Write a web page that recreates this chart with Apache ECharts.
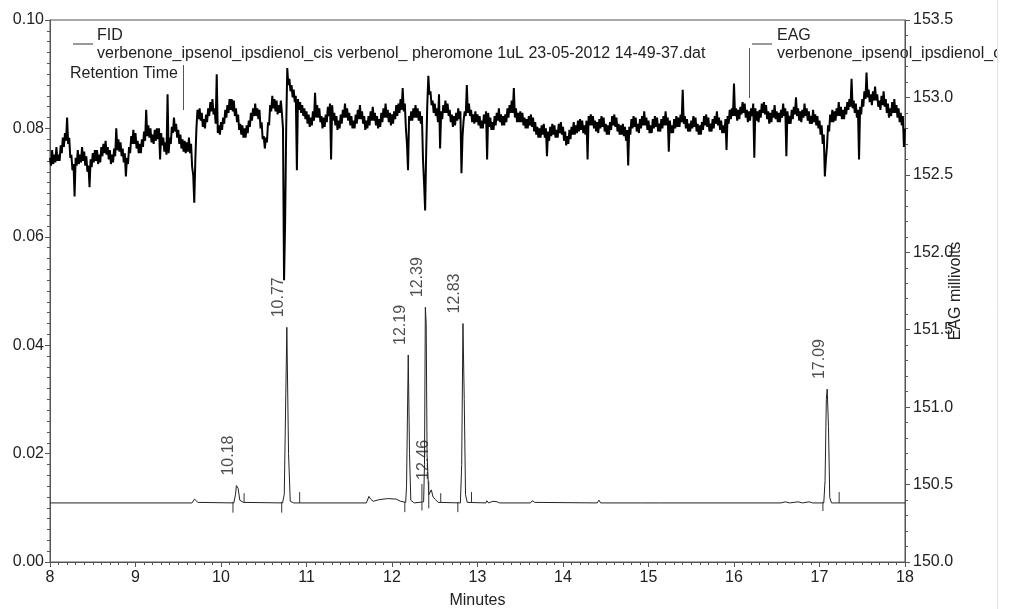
<!DOCTYPE html>
<html>
<head>
<meta charset="utf-8">
<script src="https://cdn.jsdelivr.net/npm/echarts@6/dist/echarts.min.js"></script>
<style>html,body{margin:0;padding:0;background:#fff;overflow:hidden;}#c{width:1010px;height:609px;}</style>
</head>
<body>
<div id="c"></div>
<script>
// ---- DATA ----
var xTicks = [8, 9, 10, 11, 12, 13, 14, 15, 16, 17, 18];
var fidTicks = [0.00, 0.02, 0.04, 0.06, 0.08, 0.10];
var eagTicks = [150.0, 150.5, 151.0, 151.5, 152.0, 152.5, 153.0, 153.5];

// FID chromatogram (minutes, signal)
var fidPoints = [
  [8.00,0.0109],[9.66,0.0109],[9.69,0.0116],[9.71,0.0115],[9.73,0.0110],
  [10.15,0.0109],[10.17,0.0125],[10.18,0.0141],[10.20,0.0136],[10.22,0.0114],[10.26,0.0110],
  [10.72,0.0109],[10.74,0.0125],[10.77,0.0433],[10.79,0.0200],[10.81,0.0112],[10.85,0.0109],
  [11.70,0.0109],[11.73,0.0121],[11.75,0.0116],[11.78,0.0112],[11.85,0.0115],[11.95,0.0117],[12.05,0.0116],[12.10,0.0112],
  [12.16,0.0110],[12.17,0.0140],[12.19,0.0382],[12.205,0.0200],[12.22,0.0114],[12.26,0.0109],
  [12.37,0.0111],[12.38,0.0180],[12.39,0.0470],[12.40,0.0440],[12.41,0.0200],[12.43,0.0124],
  [12.45,0.0127],[12.46,0.0133],[12.48,0.0120],[12.51,0.0115],[12.54,0.0110],
  [12.80,0.0109],[12.815,0.0180],[12.83,0.0440],[12.845,0.0300],[12.86,0.0124],[12.88,0.0110],
  [13.10,0.0109],[13.11,0.0113],[13.13,0.0109],[13.18,0.0112],[13.23,0.0111],[13.26,0.0109],
  [13.62,0.0109],[13.64,0.0113],[13.67,0.0110],[14.40,0.0109],[14.42,0.0114],[14.44,0.0109],
  [14.89,0.0109],[14.90,0.0112],[14.92,0.0109],[15.13,0.0109],[15.15,0.0112],[15.17,0.0109],
  [16.55,0.0109],[16.60,0.0111],[16.65,0.0109],[16.75,0.0111],[16.80,0.0109],[16.88,0.0111],[16.92,0.0109],
  [17.05,0.0109],[17.065,0.0150],[17.08,0.0300],[17.09,0.0319],[17.105,0.0250],[17.12,0.0119],[17.14,0.0109],
  [18.00,0.0109]
];

// integration markers: [minutes, top, bottom]
var fidMarkers = [
  [10.14,0.0111,0.0091],[10.27,0.0127,0.0109],[10.71,0.0111,0.0091],[10.92,0.0129,0.0109],
  [12.15,0.0111,0.0092],[12.35,0.0144,0.0095],[12.43,0.0149,0.0099],[12.57,0.0127,0.0109],
  [12.77,0.0111,0.0092],[12.93,0.0129,0.0109],[17.04,0.0111,0.0094],[17.23,0.0129,0.0109]
];

// peak labels
var peakTimes = [10.18, 10.77, 12.19, 12.39, 12.46, 12.83, 17.09];
var peakHeights = [0.0141, 0.0433, 0.0382, 0.0470, 0.0133, 0.0440, 0.0319];
var peakLabels = ['10.18', '10.77', '12.19', '12.39', '12.46', '12.83', '17.09'];

// EAG trace read as the upper and lower edges of the wandering noisy core.
// upper edge: every 0.025 min from 8.000; lower edge: every 0.025 min from 8.0125
var eagStart = 8.0;
var eagStep = 0.025;
var eagUpper = [
  152.61,152.66,152.63,152.68,152.63,152.69,152.74,152.77,152.87,152.74,152.63,152.57,152.61,152.66,152.63,152.68,152.65,152.62,152.56,152.60,
  152.64,152.66,152.66,152.63,152.68,152.70,152.72,152.68,152.66,152.63,152.67,152.80,152.73,152.71,152.67,152.64,152.61,152.68,152.75,152.79,
  152.77,152.72,152.70,152.73,152.78,152.92,152.82,152.80,152.76,152.79,152.80,152.80,152.77,152.74,152.71,153.02,152.74,152.81,152.87,152.83,
  152.79,152.76,152.73,152.72,152.71,152.74,152.70,152.50,152.60,152.92,152.93,152.90,152.86,152.89,152.93,152.97,152.99,152.93,153.15,152.82,
  152.84,152.87,152.92,152.95,152.99,152.99,152.98,152.93,152.89,152.83,152.82,152.80,152.82,152.85,152.90,152.93,152.96,152.93,152.92,152.84,
  152.75,152.74,152.84,152.95,153.01,152.99,152.98,152.95,152.98,152.80,152.20,153.19,153.12,153.08,153.05,153.01,152.99,152.97,152.95,152.93,
  152.91,152.89,152.87,152.91,153.03,152.95,152.93,152.88,152.87,152.89,152.94,152.96,152.95,152.90,152.88,152.85,152.89,152.92,152.96,152.93,
  152.90,152.88,152.85,152.89,152.92,152.95,152.91,152.88,152.85,152.88,152.91,152.94,152.90,152.88,152.86,152.90,152.93,152.96,152.92,152.90,
  152.89,152.91,152.95,152.96,152.99,153.06,152.96,152.70,152.88,152.91,152.93,152.95,152.93,152.91,152.88,152.45,152.65,153.14,153.04,152.98,
  152.96,152.93,153.02,152.91,152.95,152.98,152.96,152.92,152.89,152.88,152.90,152.93,152.91,152.75,152.91,153.08,152.96,152.92,152.89,152.91,
  152.89,152.88,152.85,152.89,152.91,152.90,152.87,152.84,152.88,152.90,152.93,152.89,152.88,152.89,152.93,152.95,152.98,153.06,152.93,152.90,
  152.91,152.90,152.87,152.86,152.88,152.89,152.87,152.84,152.81,152.80,152.82,152.83,152.80,152.78,152.81,152.83,152.82,152.79,152.83,152.84,
  152.81,152.78,152.75,152.79,152.81,152.84,152.82,152.85,152.86,152.85,152.82,152.85,152.88,152.89,152.88,152.85,152.84,152.86,152.88,152.87,
  152.83,152.82,152.84,152.88,152.89,152.87,152.83,152.82,152.83,152.81,152.79,152.81,152.86,152.88,152.87,152.83,152.86,152.88,152.91,152.87,
  152.85,152.82,152.86,152.88,152.87,152.83,152.86,152.88,152.91,152.87,152.85,152.82,152.86,152.88,152.87,152.89,153.05,152.88,152.86,152.83,
  152.85,152.88,152.87,152.83,152.82,152.84,152.88,152.89,152.87,152.83,152.86,152.88,152.91,152.87,152.85,152.82,152.86,152.88,152.92,152.93,
  153.09,152.93,152.92,152.94,152.97,152.96,152.92,152.91,152.93,152.96,152.93,152.91,152.92,152.96,152.97,152.95,152.91,152.90,152.92,152.95,
  152.91,152.90,152.92,152.96,152.93,152.91,152.88,152.92,152.94,153.00,152.93,152.91,152.92,152.96,152.93,152.91,152.88,152.92,152.89,152.88,
  152.85,152.82,152.76,152.60,152.82,152.89,152.92,152.91,152.93,152.97,152.94,152.92,152.94,152.97,152.99,153.12,152.98,152.96,152.92,152.94,
  152.99,153.04,153.16,153.05,153.02,153.04,153.07,153.02,152.98,153.01,153.04,152.99,152.96,152.93,152.97,152.99,152.95,152.93,152.90,152.88,
  152.80
];
var eagLower = [
  152.56,152.57,152.58,152.59,152.59,152.64,152.68,152.72,152.70,152.61,152.53,152.36,152.56,152.57,152.58,152.59,152.56,152.52,152.42,152.55,
  152.58,152.59,152.57,152.58,152.62,152.64,152.63,152.60,152.57,152.58,152.62,152.66,152.65,152.62,152.58,152.49,152.57,152.64,152.70,152.70,
  152.67,152.64,152.64,152.68,152.72,152.75,152.74,152.71,152.70,152.72,152.73,152.60,152.69,152.65,152.63,152.64,152.70,152.77,152.78,152.74,
  152.70,152.67,152.65,152.64,152.65,152.64,152.55,152.32,152.80,152.86,152.85,152.81,152.80,152.84,152.88,152.91,152.89,152.83,152.77,152.76,
  152.79,152.83,152.87,152.90,152.92,152.91,152.88,152.84,152.79,152.76,152.74,152.74,152.77,152.81,152.85,152.88,152.88,152.86,152.80,152.73,
  152.67,152.71,152.82,152.91,152.93,152.91,152.89,152.90,152.90,151.82,152.80,153.08,153.04,153.00,152.97,152.53,152.92,152.90,152.88,152.86,
  152.83,152.81,152.82,152.85,152.87,152.87,152.84,152.80,152.81,152.84,152.88,152.60,152.85,152.82,152.79,152.80,152.83,152.87,152.87,152.85,
  152.82,152.80,152.80,152.83,152.86,152.86,152.83,152.79,152.80,152.82,152.85,152.85,152.82,152.80,152.81,152.84,152.87,152.87,152.84,152.82,
  152.83,152.86,152.88,152.90,152.92,152.91,152.80,152.53,152.85,152.85,152.87,152.87,152.85,152.83,152.60,152.27,152.95,153.02,152.95,152.90,
  152.88,152.84,152.67,152.86,152.90,152.90,152.88,152.84,152.81,152.82,152.85,152.86,152.51,152.85,152.88,152.90,152.88,152.84,152.83,152.84,
  152.82,152.80,152.80,152.83,152.60,152.81,152.79,152.79,152.82,152.85,152.84,152.82,152.82,152.84,152.87,152.90,152.90,152.87,152.84,152.84,
  152.84,152.82,152.80,152.80,152.82,152.81,152.78,152.76,152.74,152.74,152.76,152.74,152.62,152.72,152.75,152.76,152.74,152.74,152.77,152.76,
  152.72,152.69,152.70,152.73,152.76,152.76,152.77,152.78,152.79,152.77,152.76,152.60,152.82,152.82,152.80,152.78,152.77,152.80,152.81,152.78,
  152.76,152.76,152.79,152.82,152.81,152.78,152.76,152.76,152.75,152.72,152.56,152.76,152.80,152.81,152.78,152.77,152.80,152.82,152.82,152.79,
  152.77,152.77,152.80,152.81,152.78,152.78,152.80,152.82,152.82,152.65,152.77,152.77,152.80,152.81,152.81,152.84,152.83,152.80,152.78,152.78,
  152.80,152.81,152.78,152.76,152.76,152.79,152.82,152.81,152.78,152.78,152.80,152.83,152.82,152.79,152.77,152.77,152.66,152.83,152.86,152.88,
  152.88,152.85,152.86,152.89,152.90,152.87,152.84,152.85,152.88,152.61,152.85,152.84,152.87,152.90,152.89,152.86,152.83,152.84,152.87,152.86,
  152.84,152.84,152.87,152.88,152.62,152.83,152.83,152.86,152.89,152.88,152.85,152.84,152.87,152.88,152.85,152.83,152.83,152.84,152.82,152.80,
  152.76,152.70,152.49,152.68,152.78,152.84,152.84,152.85,152.88,152.88,152.86,152.86,152.89,152.92,152.94,152.93,152.90,152.87,152.60,152.89,
  152.94,152.99,153.00,152.97,152.95,152.98,152.98,152.94,152.92,152.95,152.94,152.90,152.87,152.88,152.90,152.90,152.87,152.84,152.82,152.68
];

var fidLegend = 'FID';
var fidFile = 'verbenone_ipsenol_ipsdienol_cis verbenol_ pheromone 1uL 23-05-2012 14-49-37.dat';
var eagLegend = 'EAG';
var eagFile = 'verbenone_ipsenol_ipsdienol_cis verbenol_ pheromone 1uL 23-05-2012 14-49-37.dat';
var rtLabel = 'Retention Time';
var xTitle = 'Minutes';
var eagTitle = 'EAG millivolts';

// ---- BUILD ----
var eagData = [];
eagUpper.forEach(function (v, i) {
  eagData.push([eagStart + i * eagStep, v]);
  if (i < eagLower.length) eagData.push([eagStart + (i + 0.5) * eagStep, eagLower[i]]);
});
var markerData = [];
fidMarkers.forEach(function (m) { markerData.push([m[0], m[1]]); markerData.push([m[0], m[2]]); markerData.push(null); });
var labelData = peakTimes.map(function (t, i) { return { value: [t, peakHeights[i]], name: peakLabels[i] }; });

var FONT = '"Liberation Sans", Arial, Helvetica, sans-serif';
var AX = '#555';
var TXT = '#222';

var chart = echarts.init(document.getElementById('c'), null, { renderer: 'canvas', width: 1010, height: 609 });
chart.setOption({
  animation: false,
  backgroundColor: '#fff',
  textStyle: { fontFamily: FONT },
  grid: { left: 50, top: 20, width: 855, height: 542, containLabel: false, outerBoundsMode: 'none',
          show: true, borderColor: AX, borderWidth: 1 },
  xAxis: {
    type: 'value', min: xTicks[0], max: xTicks[xTicks.length - 1], interval: 1,
    name: xTitle, nameLocation: 'middle', nameGap: 31, nameMoveOverlap: false,
    nameTextStyle: { fontSize: 16, color: TXT, fontFamily: FONT },
    axisLine: { lineStyle: { color: AX } },
    axisTick: { length: 5, lineStyle: { color: AX } },
    minorTick: { show: true, splitNumber: 10, length: 3, lineStyle: { color: AX } },
    axisLabel: { fontSize: 16, color: TXT, margin: 8, fontFamily: FONT },
    splitLine: { show: false }
  },
  yAxis: [{
    type: 'value', min: fidTicks[0], max: fidTicks[fidTicks.length - 1], interval: 0.02, position: 'left',
    axisLine: { show: true, lineStyle: { color: AX } },
    axisTick: { show: true, length: 5, lineStyle: { color: AX } },
    minorTick: { show: true, splitNumber: 10, length: 3, lineStyle: { color: AX } },
    axisLabel: { fontSize: 16, color: TXT, margin: 6, fontFamily: FONT, formatter: function (v) { return v.toFixed(2); } },
    splitLine: { show: false }
  }, {
    type: 'value', min: eagTicks[0], max: eagTicks[eagTicks.length - 1], interval: 0.5, position: 'right',
    name: eagTitle, nameLocation: 'middle', nameRotate: 90, nameGap: 43, nameMoveOverlap: false,
    nameTextStyle: { fontSize: 16, color: TXT, fontFamily: FONT },
    axisLine: { show: true, lineStyle: { color: AX } },
    axisTick: { show: true, length: 5, lineStyle: { color: AX } },
    minorTick: { show: true, splitNumber: 5, length: 3, lineStyle: { color: AX } },
    axisLabel: { fontSize: 16, color: TXT, margin: 8, fontFamily: FONT, formatter: function (v) { return v.toFixed(1); } },
    splitLine: { show: false }
  }],
  series: [{
    name: 'EAG', type: 'line', yAxisIndex: 1, data: eagData, showSymbol: false, symbol: 'none',
    lineStyle: { color: '#000', width: 2 }, z: 3, silent: true
  }, {
    name: 'FID', type: 'line', yAxisIndex: 0, data: fidPoints, showSymbol: false, symbol: 'none',
    lineStyle: { color: '#222', width: 1 }, z: 2, silent: true
  }, {
    name: 'markers', type: 'line', yAxisIndex: 0, data: markerData, showSymbol: false, symbol: 'none',
    connectNulls: false, lineStyle: { color: '#333', width: 1 }, z: 2, silent: true
  }, {
    name: 'labels', type: 'scatter', yAxisIndex: 0, data: labelData, symbolSize: 0, z: 4, silent: true,
    label: {
      show: true, position: 'top', distance: 10, rotate: 90, align: 'left', verticalAlign: 'bottom',
      fontSize: 16, color: TXT, fontFamily: FONT, formatter: function (p) { return p.name; }
    }
  }],
  graphic: [
    { type: 'line', shape: { x1: 73, y1: 44, x2: 93, y2: 44 }, style: { stroke: '#333', lineWidth: 1 } },
    { type: 'text', x: 97, y: 36, style: { text: fidLegend, font: '16px ' + FONT, fill: TXT, textVerticalAlign: 'middle' } },
    { type: 'text', x: 97, y: 54, style: { text: fidFile, font: '16px ' + FONT, fill: TXT, textVerticalAlign: 'middle' } },
    { type: 'text', x: 70, y: 74, style: { text: rtLabel, font: '16px ' + FONT, fill: TXT, textVerticalAlign: 'middle' } },
    { type: 'line', shape: { x1: 183.5, y1: 65, x2: 183.5, y2: 110 }, style: { stroke: '#555', lineWidth: 1 } },
    { type: 'line', shape: { x1: 752, y1: 44, x2: 772, y2: 44 }, style: { stroke: '#333', lineWidth: 1 } },
    { type: 'line', shape: { x1: 749.5, y1: 48, x2: 749.5, y2: 98 }, style: { stroke: '#555', lineWidth: 1 } },
    { type: 'text', x: 777, y: 36, style: { text: eagLegend, font: '16px ' + FONT, fill: TXT, textVerticalAlign: 'middle' } },
    { type: 'text', x: 777, y: 54, style: { text: eagFile, font: '16px ' + FONT, fill: TXT, textVerticalAlign: 'middle' } },
    { type: 'rect', z: 100, shape: { x: 998, y: 0, width: 12, height: 609 }, style: { fill: '#fff' } },
    { type: 'line', z: 101, shape: { x1: 997.5, y1: 0, x2: 997.5, y2: 609 }, style: { stroke: '#e2e2e2', lineWidth: 1 } }
  ]
});
</script>
</body>
</html>
